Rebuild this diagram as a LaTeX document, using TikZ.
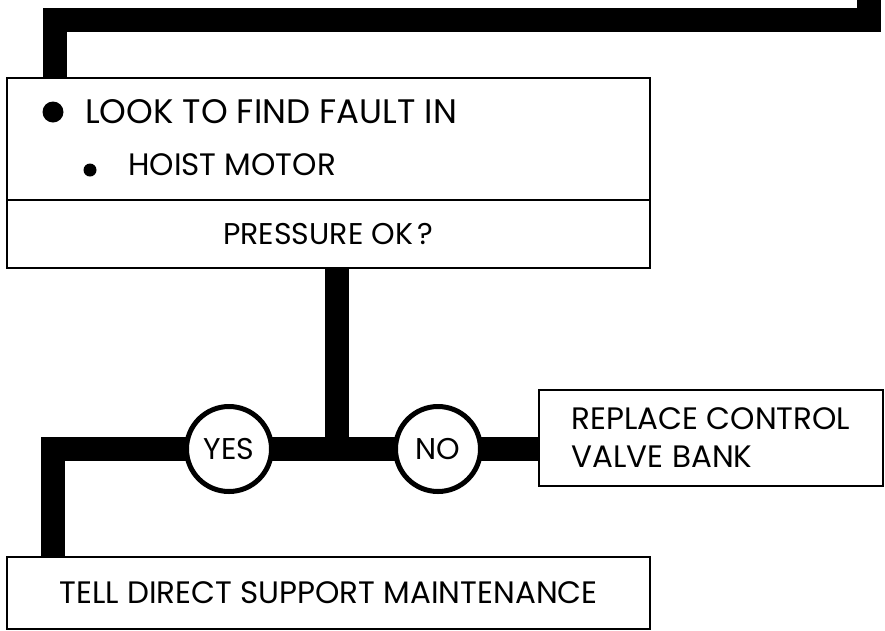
\documentclass[tikz,border=0pt]{standalone}
\usepackage{fontspec}
\setmainfont{Poppins}
\usetikzlibrary{positioning,backgrounds}

\begin{document}
\begin{tikzpicture}[
  x=1pt, y=-1pt,
  box/.style={rectangle, draw, line width=2.8pt, outer sep=0pt, inner sep=0pt,
              align=center, font=\fontsize{31}{38}\selectfont},
  txt/.style={anchor=base west, inner sep=0pt, font=\fontsize{31}{38}\selectfont},
  ans/.style={circle, draw, line width=5pt, fill=white, minimum size=85pt,
              inner sep=0pt, font=\fontsize{30}{34}\selectfont},
  dot/.style={circle, fill, inner sep=0pt},
  flow/.style={line width=24pt, line join=miter}]
  \useasboundingbox (0,0) rectangle (885,630);
  \node[box, minimum width=643pt, minimum height=122pt] (look) at (328.5,139) {};
  \node[box, minimum width=643pt, minimum height=68pt, below=0pt of look,
        font=\fontsize{30}{36}\selectfont] (ask) {PRESSURE OK\,?};
  \node[dot, minimum size=21pt] (big) at (53,112) {};
  \node[txt, font=\fontsize{34}{40}\selectfont] (find) at (85,123) {LOOK TO FIND FAULT IN};
  \node[dot, minimum size=13pt] (small) at (90,170) {};
  \node[txt] (motor) at (128,175) {HOIST MOTOR};
  \node[ans] (yes) at (229,449) {YES};
  \node[ans] (no) at (438,449) {NO};
  \node[box, minimum width=344pt, minimum height=96pt, align=left] (repl) at (711,438) {REPLACE CONTROL\\VALVE BANK};
  \node[box, minimum width=643pt, minimum height=72pt] (tell) at (328.5,593) {TELL DIRECT SUPPORT MAINTENANCE};
  \coordinate (topend) at (868.5,0);
  \coordinate (topbend) at (55,20);
  \coordinate (jn) at (336.5,449);
  \coordinate (bend) at (53,449);
  \begin{scope}[on background layer]
    \draw[flow] (topend) |- (topbend) -- (topbend |- look.north);
    \draw[flow] (ask.south -| jn) -- (jn);
    \draw[flow] (repl.west |- no) -- (no.center) -- (yes.center) -- (bend) -- (bend |- tell.north);
  \end{scope}
\end{tikzpicture}
\end{document}
